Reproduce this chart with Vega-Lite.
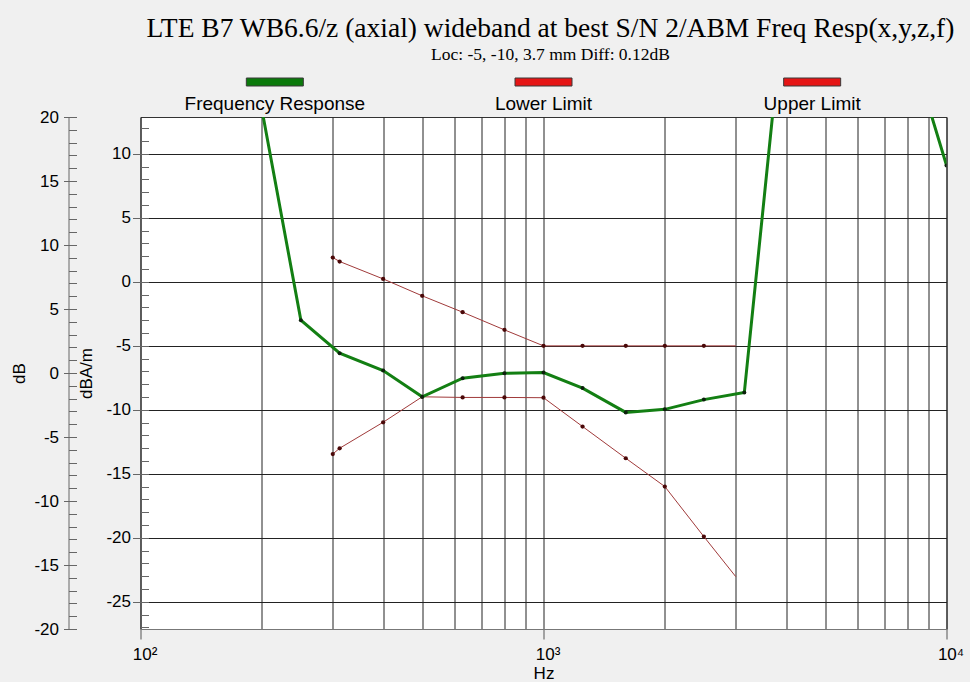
{
  "$schema": "https://vega.github.io/schema/vega-lite/v6.json",
  "background": "#f0f0f0",
  "padding": {"left": 9.5, "top": 15, "right": 5, "bottom": 0},
  "bounds": "flush",
  "spacing": 5,
  "config": {
    "view": {"stroke": null},
    "font": "Liberation Sans",
    "axis": {
      "labelFont": "Liberation Sans",
      "labelFontSize": 17,
      "labelColor": "black",
      "titleFont": "Liberation Sans",
      "titleFontSize": 17,
      "titleFontWeight": "normal",
      "titleColor": "black"
    }
  },
  "datasets": {
    "leg": [
      {"series": "Frequency Response"},
      {"series": "Lower Limit"},
      {"series": "Upper Limit"}
    ],
    "fr": [
      {"f": 200, "v": 13.5},
      {"f": 250, "v": -3.0},
      {"f": 312, "v": -5.57},
      {"f": 400, "v": -6.93},
      {"f": 500, "v": -8.98},
      {"f": 630, "v": -7.53},
      {"f": 800, "v": -7.14},
      {"f": 1000, "v": -7.08},
      {"f": 1250, "v": -8.3},
      {"f": 1600, "v": -10.2},
      {"f": 2000, "v": -9.96},
      {"f": 2500, "v": -9.2},
      {"f": 3150, "v": -8.65},
      {"f": 4000, "v": 23.4},
      {"f": 8000, "v": 19.2},
      {"f": 10000, "v": 9.1}
    ],
    "lim": [
      {"series": "Lower Limit", "f": 300, "v": -13.45},
      {"series": "Lower Limit", "f": 312, "v": -13.0},
      {"series": "Lower Limit", "f": 400, "v": -10.97},
      {"series": "Lower Limit", "f": 500, "v": -8.98},
      {"series": "Lower Limit", "f": 630, "v": -9.03},
      {"series": "Lower Limit", "f": 800, "v": -9.03},
      {"series": "Lower Limit", "f": 1000, "v": -9.05},
      {"series": "Lower Limit", "f": 1250, "v": -11.3},
      {"series": "Lower Limit", "f": 1600, "v": -13.78},
      {"series": "Lower Limit", "f": 2000, "v": -15.99},
      {"series": "Lower Limit", "f": 2500, "v": -19.9},
      {"series": "Lower Limit", "f": 3000, "v": -23.03},
      {"series": "Upper Limit", "f": 300, "v": 1.9},
      {"series": "Upper Limit", "f": 312, "v": 1.59},
      {"series": "Upper Limit", "f": 400, "v": 0.23},
      {"series": "Upper Limit", "f": 500, "v": -1.09},
      {"series": "Upper Limit", "f": 630, "v": -2.37},
      {"series": "Upper Limit", "f": 800, "v": -3.75},
      {"series": "Upper Limit", "f": 1000, "v": -5.0},
      {"series": "Upper Limit", "f": 1250, "v": -5.0},
      {"series": "Upper Limit", "f": 1600, "v": -5.0},
      {"series": "Upper Limit", "f": 2000, "v": -5.0},
      {"series": "Upper Limit", "f": 2500, "v": -5.0},
      {"series": "Upper Limit", "f": 3000, "v": -5.0}
    ]
  },
  "vconcat": [
    {
      "width": 806,
      "height": 40,
      "title": {
        "text": "LTE B7 WB6.6/z (axial) wideband at best S/N 2/ABM Freq Resp(x,y,z,f)",
        "subtitle": "Loc: -5, -10, 3.7 mm Diff: 0.12dB",
        "font": "Liberation Serif",
        "fontSize": 27.5,
        "fontWeight": "normal",
        "color": "black",
        "subtitleFont": "Liberation Serif",
        "subtitleFontSize": 17.5,
        "subtitleColor": "black",
        "subtitlePadding": 3,
        "anchor": "middle",
        "frame": "group",
        "offset": 9,
        "dx": 7
      },
      "data": {"name": "leg"},
      "encoding": {
        "x": {
          "field": "series",
          "type": "nominal",
          "scale": {"domain": ["Frequency Response", "Lower Limit", "Upper Limit"]},
          "axis": null
        }
      },
      "layer": [
        {
          "mark": {"type": "tick", "orient": "horizontal", "size": 57, "thickness": 8, "stroke": "#3a3a3a", "strokeWidth": 1, "opacity": 1},
          "encoding": {
            "y": {"datum": 30, "type": "quantitative", "scale": {"domain": [0, 40], "nice": false, "zero": false}, "axis": null},
            "color": {
              "field": "series",
              "type": "nominal",
              "scale": {"domain": ["Frequency Response", "Lower Limit", "Upper Limit"], "range": ["#0b7a0b", "#e51515", "#e51515"]},
              "legend": null
            }
          }
        },
        {
          "mark": {"type": "text", "font": "Liberation Sans", "fontSize": 19, "color": "black", "baseline": "middle"},
          "encoding": {
            "y": {"datum": 8, "type": "quantitative", "scale": {"domain": [0, 40], "nice": false, "zero": false}, "axis": null},
            "text": {"field": "series"}
          }
        }
      ]
    },
    {
      "width": 806,
      "height": 512,
      "view": {"fill": "white", "stroke": "#333333", "strokeWidth": 1},
      "resolve": {"scale": {"y": "independent"}},
      "encoding": {
        "x": {
          "field": "f",
          "type": "quantitative",
          "scale": {"type": "log", "domain": [100, 10000], "nice": false},
          "axis": {
            "values": [100, 200, 300, 400, 500, 600, 700, 800, 900, 1000, 2000, 3000, 4000, 5000, 6000, 7000, 8000, 9000, 10000],
            "grid": true,
            "gridColor": "#222222",
            "gridOpacity": 1,
            "gridWidth": 1,
            "domainColor": "#777777",
            "tickColor": "#555555",
            "tickSize": 10,
            "tickOpacity": {"condition": {"test": "datum.value == 100 || datum.value == 1000 || datum.value == 10000", "value": 1}, "value": 0},
            "labelExpr": "datum.value == 100 ? '10²' : datum.value == 1000 ? '10³' : datum.value == 10000 ? '10⁴' : ''",
            "labelOverlap": false,
            "labelFlush": false,
            "labelPadding": 7,
            "labelOffset": 4,
            "title": "Hz",
            "titlePadding": 3
          }
        }
      },
      "layer": [
        {
          "data": {"name": "fr"},
          "mark": {"type": "point", "opacity": 0, "clip": true},
          "encoding": {
            "y": {
              "field": "v",
              "type": "quantitative",
              "scale": {"domain": [-20, 20], "nice": false, "zero": false},
              "axis": {
                "orient": "left",
                "offset": 72,
                "values": [-20, -15, -10, -5, 0, 5, 10, 15, 20],
                "labelExpr": "'' + datum.value",
                "title": "dB",
                "grid": false,
                "tickSize": 5,
                "tickColor": "#666666",
                "domainColor": "#666666",
                "labelPadding": 5,
                "titlePadding": 5
              }
            }
          }
        },
        {
          "data": {"name": "fr"},
          "mark": {"type": "point", "opacity": 0, "clip": true},
          "encoding": {
            "y": {
              "field": "v",
              "type": "quantitative",
              "scale": {"domain": [-20, 20], "nice": false, "zero": false},
              "axis": {
                "orient": "left",
                "offset": 72,
                "values": [-20, -19, -18, -17, -16, -15, -14, -13, -12, -11, -10, -9, -8, -7, -6, -5, -4, -3, -2, -1, 0, 1, 2, 3, 4, 5, 6, 7, 8, 9, 10, 11, 12, 13, 14, 15, 16, 17, 18, 19, 20],
                "title": null,
                "labels": false,
                "domain": false,
                "grid": false,
                "tickSize": -8,
                "tickColor": "#666666"
              }
            }
          }
        },
        {
          "data": {"name": "fr"},
          "mark": {"type": "point", "opacity": 0, "clip": true},
          "encoding": {
            "y": {
              "field": "v",
              "type": "quantitative",
              "scale": {"domain": [-27.12, 12.88], "nice": false, "zero": false},
              "axis": {
                "orient": "left",
                "offset": 0,
                "values": [-27, -26, -25, -24, -23, -22, -21, -20, -19, -18, -17, -16, -15, -14, -13, -12, -11, -10, -9, -8, -7, -6, -5, -4, -3, -2, -1, 0, 1, 2, 3, 4, 5, 6, 7, 8, 9, 10, 11, 12],
                "title": null,
                "labels": false,
                "domain": false,
                "grid": false,
                "tickSize": -8,
                "tickColor": "#666666"
              }
            }
          }
        },
        {
          "data": {"name": "lim"},
          "mark": {"type": "line", "clip": true, "strokeWidth": 1, "color": "#a03a3a"},
          "encoding": {
            "y": {"field": "v", "type": "quantitative", "scale": {"domain": [-27.12, 12.88], "nice": false, "zero": false}, "axis": null},
            "detail": {"field": "series", "type": "nominal"}
          }
        },
        {
          "data": {"name": "lim"},
          "transform": [{"filter": "datum.f < 3000"}],
          "mark": {"type": "point", "clip": true, "filled": true, "size": 18, "opacity": 1, "color": "#4a0808"},
          "encoding": {
            "y": {"field": "v", "type": "quantitative", "scale": {"domain": [-27.12, 12.88], "nice": false, "zero": false}, "axis": null}
          }
        },
        {
          "data": {"name": "fr"},
          "mark": {"type": "line", "clip": true, "strokeWidth": 3, "color": "#137f13"},
          "encoding": {
            "y": {
              "field": "v",
              "type": "quantitative",
              "scale": {"domain": [-27.12, 12.88], "nice": false, "zero": false},
              "axis": {
                "orient": "left",
                "offset": 0,
                "values": [-25, -20, -15, -10, -5, 0, 5, 10],
                "labelExpr": "'' + datum.value",
                "title": "dBA/m",
                "grid": true,
                "gridColor": "#222222",
                "gridOpacity": 1,
                "tickSize": 8,
                "tickColor": "#666666",
                "domain": false,
                "labelPadding": 2,
                "titlePadding": 10
              }
            }
          }
        },
        {
          "data": {"name": "fr"},
          "mark": {"type": "point", "clip": true, "filled": true, "size": 16, "opacity": 1, "color": "#0d200d"},
          "encoding": {
            "y": {"field": "v", "type": "quantitative", "scale": {"domain": [-27.12, 12.88], "nice": false, "zero": false}, "axis": null}
          }
        }
      ]
    }
  ]
}
